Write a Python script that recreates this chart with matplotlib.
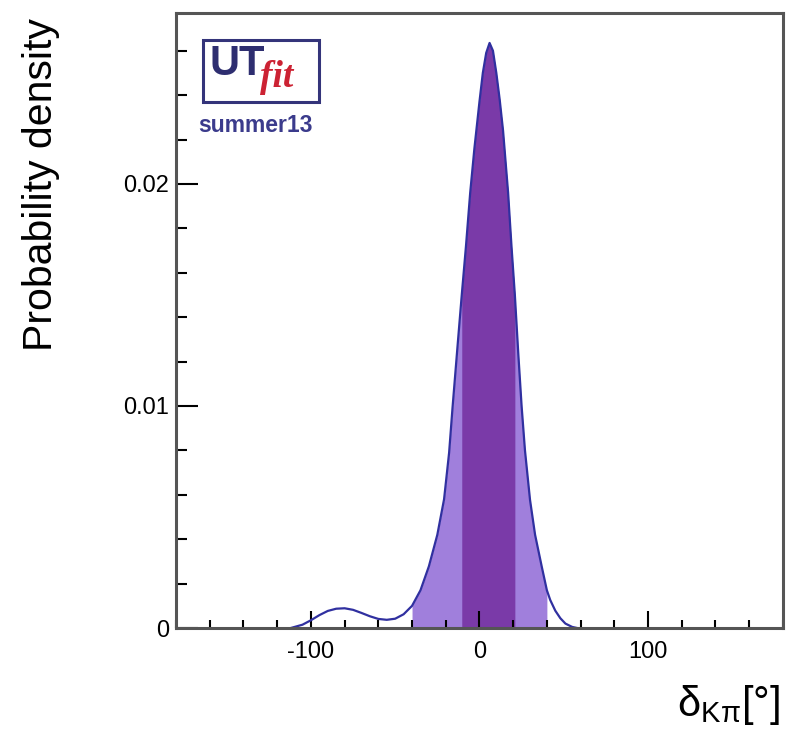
import matplotlib
matplotlib.use("Agg")
import matplotlib.pyplot as plt
from matplotlib.patches import Rectangle
from matplotlib.ticker import MultipleLocator, FixedLocator
import numpy as np

# posterior of delta_Kpi (degrees, probability density)
delta = np.array([-112, -105, -100, -95, -90, -85, -80, -75, -70, -65, -60, -55,
                  -50, -45, -40, -35, -30, -25, -21, -18, -16, -13, -10.5, -8,
                  -5.5, -3, 0, 2, 4, 6, 8, 10, 12, 14, 17, 19, 21, 23, 25, 27,
                  30, 33, 37, 40, 42, 45, 48, 51, 55, 58])
density = np.array([0.0, 0.00015, 0.00035, 0.00058, 0.00077, 0.00087, 0.00089,
                    0.00082, 0.00068, 0.00053, 0.00041, 0.00037, 0.00042,
                    0.00062, 0.00100, 0.00170, 0.00278, 0.00420, 0.00580,
                    0.00790, 0.00990, 0.01270, 0.01500, 0.01720, 0.01960,
                    0.02160, 0.02370, 0.02500, 0.02590, 0.02635, 0.02600,
                    0.02500, 0.02380, 0.02240, 0.01960, 0.01720, 0.01500,
                    0.01240, 0.01000, 0.00800, 0.00577, 0.00420, 0.00275,
                    0.00170, 0.00126, 0.00078, 0.00044, 0.00020, 0.00005, 0.0])

# 68% and 95% probability intervals
band68 = (-10.5, 21)
band95 = (-40, 40)

xticks_major = [-100, 0, 100]
yticks_major = [0, 0.01, 0.02]
ytick_labels = ["0", "0.01", "0.02"]

plt.rcParams['font.family'] = ['Liberation Sans', 'DejaVu Sans']
plt.rcParams['axes.unicode_minus'] = False

fig = plt.figure(figsize=(7.86, 7.33), dpi=100)
ax = fig.add_axes([0.224, 0.1432, 0.772, 0.8391])

light = '#a07fdc'
dark = '#7a3aa8'
line = '#3030a0'

in95 = (delta >= band95[0]) & (delta <= band95[1])
in68 = (delta >= band68[0]) & (delta <= band68[1])
ax.fill_between(delta, 0, density, where=in95, color=light, lw=0)
ax.fill_between(delta, 0, density, where=in68, color=dark, lw=0)
ax.plot(delta, density, color=line, lw=1.6)

ax.set_xlim(-180, 180)
ax.set_ylim(0, 0.0277)

ax.xaxis.set_major_locator(FixedLocator(xticks_major))
ax.xaxis.set_minor_locator(MultipleLocator(20))
ax.yaxis.set_major_locator(FixedLocator(yticks_major))
ax.set_yticklabels(ytick_labels)
ax.yaxis.set_minor_locator(MultipleLocator(0.002))

ax.tick_params(axis='x', which='major', direction='in', length=12, width=1.5,
               labelsize=17, pad=9, top=False)
ax.tick_params(axis='x', which='minor', direction='in', length=6, width=1.5,
               top=False)
ax.tick_params(axis='y', which='major', direction='in', length=16, width=1.5,
               labelsize=17, pad=5, right=False)
ax.tick_params(axis='y', which='minor', direction='in', length=8, width=1.5,
               right=False)
for sp in ax.spines.values():
    sp.set_linewidth(2.2)
    sp.set_color('#555555')

fig.text(0.052, 1 - 18 / 733, "Probability density", rotation=90,
         ha='center', va='top', fontsize=29.5)
fig.text(0.992, 1 - 705 / 733, r'$\mathregular{\delta_{K\pi}}$[°]', ha='right',
         va='center', fontsize=30)

# UTfit logo
fig.add_artist(Rectangle((203 / 786, 1 - 102 / 733), 116 / 786, 62 / 733,
                         transform=fig.transFigure, facecolor='white',
                         edgecolor='#34347a', lw=2.2))
fig.text(209 / 786, 1 - 75 / 733, "UT", fontsize=30, fontweight='bold',
         color='#2e2e70', ha='left', va='baseline')
fig.text(260 / 786, 1 - 87 / 733, "fit", fontsize=27, style='italic',
         fontweight='bold', family=['Liberation Serif', 'DejaVu Serif'],
         color='#cc2233', ha='left', va='baseline')
fig.text(255 / 786, 1 - 132 / 733, "summer13", fontsize=16.5,
         fontweight='bold', color='#3b3b8c', ha='center', va='baseline')

fig.savefig("out.png", dpi=100)
